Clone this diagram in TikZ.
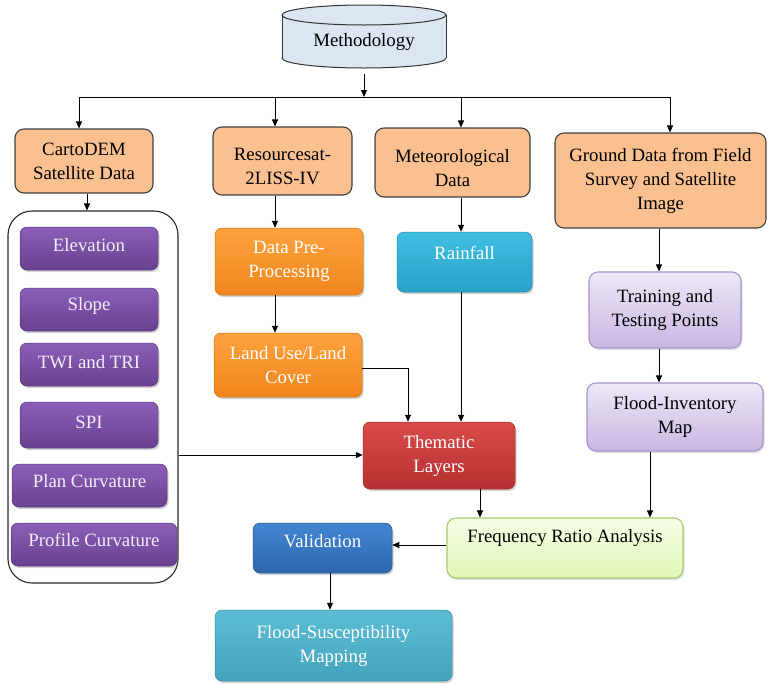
\documentclass[tikz,border=0pt]{standalone}
\usepackage{fontspec}
\setmainfont{Liberation Serif}
\usetikzlibrary{arrows.meta,shadows,calc}
\definecolor{peachc}{HTML}{FAC090}
\definecolor{cylc}{HTML}{DCE6F2}
\definecolor{purpT}{HTML}{8C5EB8}
\definecolor{purpB}{HTML}{68418F}
\definecolor{purpD}{HTML}{5E3C82}
\definecolor{orT}{HTML}{FFA23E}
\definecolor{orB}{HTML}{EF861C}
\definecolor{cyT}{HTML}{40BEE2}
\definecolor{cyB}{HTML}{29A2C8}
\definecolor{redT}{HTML}{DA4A4A}
\definecolor{redB}{HTML}{B53131}
\definecolor{blT}{HTML}{4285D2}
\definecolor{blB}{HTML}{2E66AE}
\definecolor{tlT}{HTML}{5BBDD4}
\definecolor{tlB}{HTML}{44A3BC}
\definecolor{lpT}{HTML}{EEE8F7}
\definecolor{lpB}{HTML}{C8B6E2}
\definecolor{lpD}{HTML}{A993CC}
\definecolor{lgT}{HTML}{F6FFE6}
\definecolor{lgB}{HTML}{E0F5B4}
\definecolor{lgD}{HTML}{A9C96E}
\definecolor{lavtext}{HTML}{F4EEFB}
\begin{document}
\begin{tikzpicture}[x=1pt,y=-1pt,
  every node/.style={font=\fontsize{18.8}{24}\selectfont, align=center, inner sep=0pt},
  txt/.style={text=black},
  wtxt/.style={text=white},
  ptxt/.style={text=lavtext},
  peach/.style={draw=black!75, line width=1.1pt, fill=peachc, rounded corners=9pt},
  glossy/.style 2 args={rounded corners=7pt, top color=#1, bottom color=#2, draw=#2!85!black, line width=0.5pt,
     drop shadow={opacity=0.35, shadow xshift=1.5pt, shadow yshift=-2pt}},
  purp/.style={glossy={purpT}{purpB}},
  light/.style 2 args={rounded corners=9pt, top color=#1, bottom color=#2, line width=1.1pt,
     drop shadow={opacity=0.25, shadow xshift=1.5pt, shadow yshift=-2pt}},
  arr/.style={-{Triangle[length=7pt,width=6pt]}, line width=1pt, black},
  ln/.style={line width=1pt, black}
]
\useasboundingbox (0,0) rectangle (767,683);

% Methodology cylinder
\fill[cylc, draw=black!80, line width=1pt] (364,58) ellipse (82pt and 10pt);
\fill[cylc] (282,15) rectangle (446,58);
\draw[black!80, line width=1pt] (282,15) -- (282,58) (446,15) -- (446,58);
\fill[cylc, draw=black!80, line width=1pt] (364,15) ellipse (82pt and 10pt);
\node[minimum width=164pt, minimum height=63pt, txt] (meth) at (364,42) {Methodology};

% first-level boxes
\node[peach, minimum width=138pt, minimum height=64pt, txt] (carto) at (84,161) {CartoDEM\\Satellite Data};
\node[peach, minimum width=139pt, minimum height=68pt] (res) at (282.5,161) {};
\node[txt] (res-t) at (282.5,166) {Resourcesat-\\2LISS-IV};
\node[peach, minimum width=155pt, minimum height=69pt] (met) at (452.5,162.5) {};
\node[txt] (met-t) at (452.5,168) {Meteorological\\Data};
\node[peach, minimum width=211pt, minimum height=95pt, txt] (ground) at (660.5,180.5) {Ground Data from Field\\Survey and Satellite\\Image};

% bus
\coordinate (bus) at (364,97);
\coordinate (busL) at (79,97);
\coordinate (busR) at (670,97);
\coordinate (xres) at (275,0);
\coordinate (xmet) at (461,0);
\draw[arr] (meth.south) -- (bus);
\draw[ln] (busL) -- (busR);
\draw[arr] (busL) -- (busL |- carto.north);
\draw[arr] (bus -| xres) -- (res.north -| xres);
\draw[arr] (bus -| xmet) -- (met.north -| xmet);
\draw[arr] (busR) -- (busR |- ground.north);

% container of DEM factors
\node[draw=black!85, line width=1.1pt, rounded corners=24pt, minimum width=170pt, minimum height=372pt] (cont) at (93,397) {};
\coordinate (xcart) at (87,0);
\draw[arr] (carto.south -| xcart) -- (cont.north -| xcart);

\node[purp, minimum width=138pt, minimum height=43pt] (elev) at (89,248.5) {};
\node[ptxt] (elev-t) at (89,245) {Elevation};
\node[purp, minimum width=138pt, minimum height=43pt] (slope) at (89,309.5) {};
\node[ptxt] (slope-t) at (89,306) {Slope};
\node[purp, minimum width=138pt, minimum height=43pt] (twi) at (89,364.5) {};
\node[ptxt] (twi-t) at (89,362) {TWI and TRI};
\node[purp, minimum width=138pt, minimum height=46pt] (spi) at (89,425) {};
\node[ptxt] (spi-t) at (89,422) {SPI};
\node[purp, minimum width=155pt, minimum height=43pt] (plan) at (89.5,485.5) {};
\node[ptxt] (plan-t) at (89.5,481) {Plan Curvature};
\node[purp, minimum width=166pt, minimum height=43pt] (prof) at (94,544.5) {};
\node[ptxt] (prof-t) at (94,540) {Profile Curvature};

% middle column
\node[glossy={orT}{orB}, minimum width=148pt, minimum height=67pt, wtxt] (pre) at (289,261.5) {Data Pre-\\Processing};
\node[glossy={orT}{orB}, minimum width=148pt, minimum height=64pt, wtxt] (lulc) at (288,365) {Land Use/Land\\Cover};
\node[glossy={cyT}{cyB}, minimum width=135pt, minimum height=60pt] (rain) at (464.5,262) {};
\node[wtxt] (rain-t) at (464.5,253) {Rainfall};
\node[glossy={redT}{redB}, minimum width=152pt, minimum height=67pt, wtxt] (them) at (439,455.5) {Thematic\\Layers};

\draw[arr] (res.south -| xres) -- (pre.north -| xres);
\draw[arr] (pre.south -| xres) -- (lulc.north -| xres);
\draw[arr] (met.south -| xmet) -- (rain.north -| xmet);
\draw[arr] (rain.south -| xmet) -- (them.north -| xmet);
\coordinate (xlu) at (408,368);
\draw[arr] (lulc.east |- xlu) -- (xlu) -- (them.north -| xlu);
\coordinate (ycont) at (0,455);
\draw[arr] (cont.east |- ycont) -- (them.west |- ycont);

% right column
\node[light={lpT}{lpB}, draw=lpD, minimum width=152pt, minimum height=76pt, txt] (train) at (665,310) {Training and\\Testing Points};
\node[light={lpT}{lpB}, draw=lpD, minimum width=176pt, minimum height=68pt, txt] (finv) at (675,417) {Flood-Inventory\\Map};
\node[light={lgT}{lgB}, draw=lgD, minimum width=236pt, minimum height=60pt] (freq) at (565,548) {};
\node[txt] (freq-t) at (565,538) {Frequency Ratio Analysis};

\coordinate (xgr) at (659,0);
\coordinate (xfi) at (650,0);
\coordinate (xth) at (480,0);
\draw[arr] (ground.south -| xgr) -- (train.north -| xgr);
\draw[arr] (train.south -| xgr) -- (finv.north -| xgr);
\draw[arr] (finv.south -| xfi) -- (freq.north -| xfi);
\draw[arr] (them.south -| xth) -- (freq.north -| xth);

% bottom
\node[glossy={blT}{blB}, minimum width=139pt, minimum height=50pt] (valid) at (322.5,548) {};
\node[wtxt] (valid-t) at (322.5,541) {Validation};
\node[glossy={tlT}{tlB}, minimum width=237pt, minimum height=71pt, wtxt] (fsm) at (333.5,645.5) {Flood-Susceptibility\\Mapping};

\coordinate (yfr) at (0,545);
\coordinate (xva) at (330,0);
\draw[arr] (freq.west |- yfr) -- (valid.east |- yfr);
\draw[arr] (valid.south -| xva) -- (fsm.north -| xva);
\end{tikzpicture}
\end{document}
